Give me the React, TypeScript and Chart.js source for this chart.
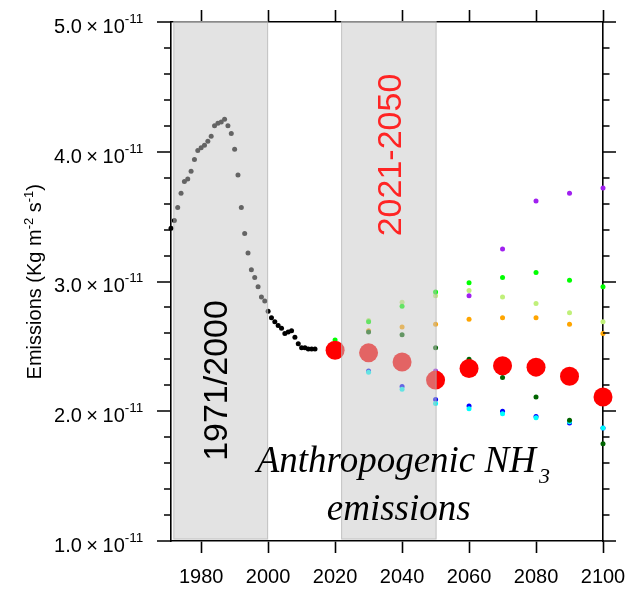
import React, { useEffect, useRef } from "react";
import { Chart, registerables } from "chart.js";

Chart.register(...registerables);

// ---------- data (values in units of 1e-11 kg m-2 s-1) ----------
const histYears = [
  1971, 1972, 1973, 1974, 1975, 1976, 1977, 1978, 1979, 1980, 1981, 1982, 1983, 1984, 1985,
  1986, 1987, 1988, 1989, 1990, 1991, 1992, 1993, 1994, 1995, 1996, 1997, 1998, 1999, 2000,
  2001, 2002, 2003, 2004, 2005, 2006, 2007, 2008, 2009, 2010, 2011, 2012, 2013, 2014,
];
const histValues = [
  3.41, 3.47, 3.57, 3.68, 3.77, 3.79, 3.85, 3.94, 4.01, 4.03, 4.05, 4.08, 4.12, 4.2, 4.22,
  4.23, 4.25, 4.2, 4.14, 4.02, 3.82, 3.57, 3.37, 3.22, 3.09, 3.03, 2.96, 2.88, 2.85, 2.77,
  2.72, 2.69, 2.66, 2.64, 2.6, 2.61, 2.62, 2.57, 2.52, 2.49, 2.49, 2.48, 2.48, 2.48,
];

const scenarioYears = [2020, 2030, 2040, 2050, 2060, 2070, 2080, 2090, 2100];
const ensembleMean = [2.47, 2.45, 2.38, 2.24, 2.33, 2.35, 2.34, 2.27, 2.11];
const scenarioLime = [2.55, 2.69, 2.81, 2.92, 2.99, 3.03, 3.07, 3.01, 2.96];
const scenarioLightGreen = [2.5, 2.7, 2.84, 2.89, 2.93, 2.88, 2.83, 2.76, 2.69];
const scenarioOrange = [2.5, 2.62, 2.65, 2.67, 2.71, 2.72, 2.72, 2.67, 2.6];
const scenarioDarkGreen = [2.5, 2.61, 2.59, 2.49, 2.4, 2.26, 2.11, 1.93, 1.75];
const scenarioPurple = [2.5, 2.45, 2.38, 2.31, 2.89, 3.25, 3.62, 3.68, 3.72];
const scenarioBlue = [2.5, 2.31, 2.19, 2.09, 2.04, 2.0, 1.96, 1.91, 1.87];
const scenarioCyan = [2.5, 2.3, 2.17, 2.06, 2.02, 1.98, 1.95, 1.92, 1.87];

const xTickValues = [1980, 2000, 2020, 2040, 2060, 2080, 2100];
const yTickValues = [
  1.0, 1.2, 1.4, 1.6, 1.8, 2.0, 2.2, 2.4, 2.6, 2.8, 3.0, 3.2, 3.4, 3.6, 3.8, 4.0, 4.2, 4.4,
  4.6, 4.8, 5.0,
];
const yMajorValues = [1, 2, 3, 4, 5];
const yExponent = "-11";

const shadedPeriods = [
  [1971.7, 2000],
  [2021.8, 2050.3],
];
const periodLabels = ["1971/2000", "2021-2050"];
const titleMain = "Anthropogenic NH";
const titleSub = "3";
const titleLine2 = "emissions";

const SANS = "'Liberation Sans', Arial, sans-serif";
const SERIF = "'Liberation Serif', 'Times New Roman', serif";

const toPts = (xs: number[], ys: number[]) => xs.map((x, i) => ({ x, y: ys[i] }));

const dotSet = (label: string, ys: number[], color: string, order: number) => ({
  label,
  data: toPts(scenarioYears, ys),
  pointRadius: 2.5,
  pointBackgroundColor: color,
  pointBorderWidth: 0,
  showLine: false,
  clip: false as any,
  order,
});

const decorPlugin = {
  id: "decor",
  afterDatasetsDraw(chart: any) {
    const { ctx, chartArea, scales } = chart;
    const x = scales.x;
    ctx.save();
    for (const [a, b] of shadedPeriods) {
      const x0 = x.getPixelForValue(a);
      const x1 = x.getPixelForValue(b);
      const top = chartArea.top - 1;
      const h = chartArea.bottom - 1.5 - top;
      ctx.fillStyle = "rgba(200,200,200,0.5)";
      ctx.fillRect(x0, top, x1 - x0, h);
      ctx.strokeStyle = "rgba(170,170,170,0.55)";
      ctx.lineWidth = 1;
      ctx.strokeRect(x0 + 0.5, top + 0.5, x1 - x0 - 1, h - 1);
    }
    ctx.restore();
  },
  afterDraw(chart: any) {
    const { ctx, chartArea, scales } = chart;
    const x = scales.x;
    const y = scales.y;
    ctx.save();
    // y tick marks (major / minor), both sides
    ctx.strokeStyle = "#000";
    ctx.lineWidth = 1.6;
    for (const v of yTickValues) {
      const py = Math.round(y.getPixelForValue(v));
      const major = yMajorValues.some((m) => Math.abs(m - v) < 1e-6);
      const lenL = major ? 14 : 7;
      const lenR = major ? 13 : 6.5;
      ctx.beginPath();
      ctx.moveTo(chartArea.left - lenL, py);
      ctx.lineTo(chartArea.left, py);
      ctx.moveTo(chartArea.right, py);
      ctx.lineTo(chartArea.right + lenR, py);
      ctx.stroke();
    }
    // y tick labels  "5.0×10^-11"
    ctx.fillStyle = "#000";
    ctx.textBaseline = "alphabetic";
    ctx.textAlign = "left";
    for (const v of yMajorValues) {
      const py = y.getPixelForValue(v);
      const right = chartArea.left - 27.7;
      ctx.font = `13.5px ${SANS}`;
      const supW = ctx.measureText(yExponent).width;
      ctx.font = `20px ${SANS}`;
      const a = v.toFixed(1);
      const times = "\u00d7";
      const b = "10";
      const gap = 4.5;
      const wa = ctx.measureText(a).width;
      const wt = ctx.measureText(times).width;
      const wb = ctx.measureText(b).width;
      const total = wa + gap + wt + gap + wb + supW;
      let cx = right - total;
      ctx.fillText(a, cx, py + 10.8);
      cx += wa + gap;
      ctx.fillText(times, cx, py + 10.8);
      cx += wt + gap;
      ctx.fillText(b, cx, py + 10.8);
      cx += wb;
      ctx.font = `13.5px ${SANS}`;
      ctx.fillText(yExponent, cx, py + 0.8);
    }
    // y axis title with superscripts
    const parts: [string, boolean][] = [
      ["Emissions (Kg m", false],
      ["-2", true],
      [" s", false],
      ["-1", true],
      [")", false],
    ];
    const fMain = `20px ${SANS}`;
    const fSup = `13px ${SANS}`;
    let total = 0;
    for (const [t, s] of parts) {
      ctx.font = s ? fSup : fMain;
      total += ctx.measureText(t).width;
    }
    const cy = 281.7;
    ctx.save();
    ctx.translate(40.7, cy);
    ctx.rotate(-Math.PI / 2);
    ctx.textAlign = "left";
    let cx = -total / 2;
    for (const [t, s] of parts) {
      ctx.font = s ? fSup : fMain;
      ctx.fillText(t, cx, s ? -7.5 : 0);
      cx += ctx.measureText(t).width;
    }
    ctx.restore();

    // period labels (rotated)
    ctx.font = `34px ${SANS}`;
    ctx.textAlign = "center";
    ctx.save();
    ctx.translate(x.getPixelForValue(1987.8), y.getPixelForValue(2.237));
    ctx.rotate(-Math.PI / 2);
    ctx.fillStyle = "#000";
    ctx.fillText(periodLabels[0], 0, 0);
    ctx.restore();
    ctx.save();
    ctx.translate(x.getPixelForValue(2039.6), y.getPixelForValue(3.975));
    ctx.rotate(-Math.PI / 2);
    ctx.fillStyle = "#ff2424";
    ctx.fillText(periodLabels[1], 0, 0);
    ctx.restore();

    // italic serif title
    ctx.fillStyle = "#000";
    ctx.font = `italic 37px ${SERIF}`;
    ctx.textAlign = "left";
    const tx = x.getPixelForValue(1996.6);
    const ty = y.getPixelForValue(1.529);
    ctx.fillText(titleMain, tx, ty);
    const w = ctx.measureText(titleMain).width;
    ctx.font = `italic 22px ${SERIF}`;
    ctx.fillText(titleSub, tx + w + 3, ty + 11);
    ctx.font = `italic 37px ${SERIF}`;
    ctx.textAlign = "center";
    ctx.fillText(titleLine2, x.getPixelForValue(2039), y.getPixelForValue(1.162));
    ctx.restore();
  },
};

const setXTicks = (scale: any) => {
  scale.ticks = xTickValues.map((v) => ({ value: v }));
};
const setYTicks = (scale: any) => {
  scale.ticks = yTickValues.map((v) => ({ value: v }));
};

export default function App() {
  const ref = useRef<HTMLCanvasElement>(null);
  useEffect(() => {
    if (!ref.current) return;
    const chart = new Chart(ref.current, {
      type: "scatter",
      data: {
        datasets: [
          {
            label: "Ensemble mean",
            data: toPts(scenarioYears, ensembleMean),
            pointRadius: 9.5,
            pointBackgroundColor: "#ff0000",
            pointBorderWidth: 0,
            showLine: false,
            clip: false as any,
            order: 0,
          },
          dotSet("Scenario lime", scenarioLime, "#00ff00", 1),
          dotSet("Scenario blue", scenarioBlue, "#0000ff", 3),
          dotSet("Scenario cyan", scenarioCyan, "#00ffff", 2),
          dotSet("Scenario dark green", scenarioDarkGreen, "#006400", 1.5),
          dotSet("Scenario light green", scenarioLightGreen, "#c0f07a", 4),
          dotSet("Scenario orange", scenarioOrange, "#ffa500", 5),
          dotSet("Scenario purple", scenarioPurple, "#a020f0", 6),
          {
            label: "Historical",
            data: toPts(histYears, histValues),
            pointRadius: 2.5,
            pointBackgroundColor: "#000000",
            pointBorderWidth: 0,
            showLine: false,
            clip: false as any,
            order: 10,
          },
        ] as any,
      },
      options: {
        responsive: false,
        animation: false,
        events: [],
        layout: { padding: 0 },
        plugins: { legend: { display: false }, tooltip: { enabled: false } },
        scales: {
          x: {
            type: "linear",
            position: "bottom",
            min: 1971,
            max: 2100,
            afterBuildTicks: setXTicks,
            afterFit: (s: any) => {
              s.height = 49;
              s.paddingLeft = 0;
              s.paddingRight = 0;
            },
            grid: {
              drawOnChartArea: false,
              drawTicks: true,
              tickLength: 12,
              tickColor: "#000",
              tickWidth: 1.6,
            },
            border: { display: true, color: "#000", width: 1.6 },
            ticks: {
              color: "#000",
              font: { family: "Liberation Sans", size: 20 },
              padding: 12,
              maxRotation: 0,
              autoSkip: false,
              callback: (v: any) => String(v),
            },
          },
          x2: {
            type: "linear",
            position: "top",
            min: 1971,
            max: 2100,
            afterBuildTicks: setXTicks,
            afterFit: (s: any) => {
              s.height = 22;
              s.paddingLeft = 0;
              s.paddingRight = 0;
            },
            grid: {
              drawOnChartArea: false,
              drawTicks: true,
              tickLength: 12,
              tickColor: "#000",
              tickWidth: 1.6,
            },
            border: { display: true, color: "#000", width: 1.6 },
            ticks: { display: false },
          },
          y: {
            type: "linear",
            position: "left",
            min: 1,
            max: 5,
            afterBuildTicks: setYTicks,
            afterFit: (s: any) => {
              s.width = 171;
              s.paddingTop = 0;
              s.paddingBottom = 0;
            },
            grid: { drawOnChartArea: false, drawTicks: false },
            border: { display: true, color: "#000", width: 1.6 },
            ticks: { display: false },
          },
          y2: {
            type: "linear",
            position: "right",
            min: 1,
            max: 5,
            afterBuildTicks: setYTicks,
            afterFit: (s: any) => {
              s.width = 28;
              s.paddingTop = 0;
              s.paddingBottom = 0;
            },
            grid: { drawOnChartArea: false, drawTicks: false },
            border: { display: true, color: "#000", width: 1.6 },
            ticks: { display: false },
          },
        },
      } as any,
      plugins: [decorPlugin],
    });
    return () => chart.destroy();
  }, []);
  return (
    <div
      style={{
        position: "absolute",
        left: 0,
        top: 0,
        width: 631,
        height: 590,
        background: "#fff",
      }}
    >
      <canvas ref={ref} width={631} height={590} style={{ display: "block" }} />
    </div>
  );
}
